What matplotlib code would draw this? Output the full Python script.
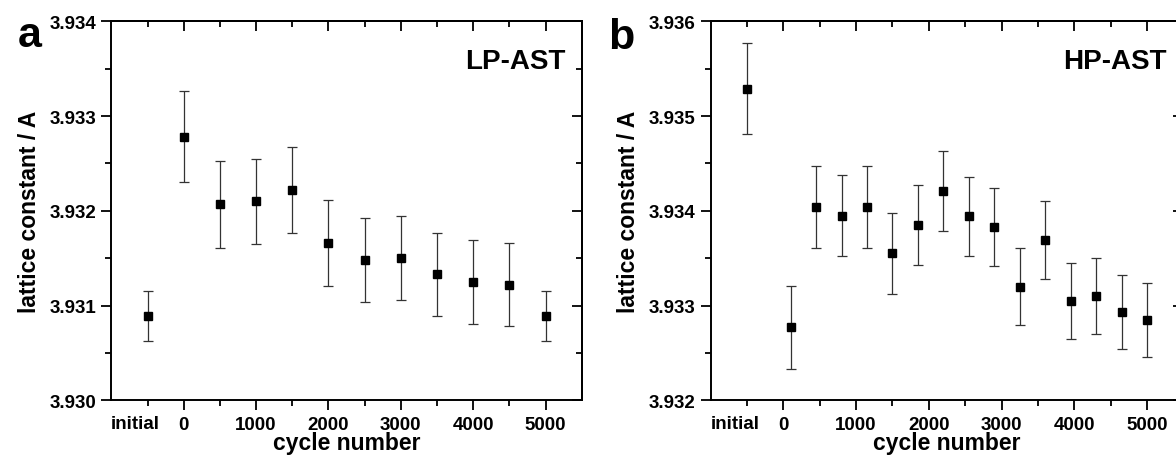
import matplotlib
matplotlib.use("Agg")
import matplotlib.pyplot as plt
from matplotlib.ticker import MultipleLocator

plt.rcParams['font.family'] = ['Liberation Sans', 'DejaVu Sans']
plt.rcParams['font.weight'] = 'bold'

# Panel a: LP-AST
a_x = [-500, 0, 500, 1000, 1500, 2000, 2500, 3000, 3500, 4000, 4500, 5000]
a_y = [3.93089, 3.93278, 3.93207, 3.93210, 3.93222, 3.93166, 3.93148, 3.93150,
       3.93133, 3.93125, 3.93122, 3.93089]
a_err = [0.00026, 0.00048, 0.00046, 0.00045, 0.00045, 0.00045, 0.00044, 0.00044,
         0.00044, 0.00044, 0.00044, 0.00026]

# Panel b: HP-AST
b_x = [-500, 100, 450, 800, 1150, 1500, 1850, 2200, 2550, 2900, 3250, 3600,
       3950, 4300, 4650, 5000]
b_y = [3.93529, 3.93277, 3.93404, 3.93395, 3.93404, 3.93355, 3.93385, 3.93421,
       3.93394, 3.93383, 3.93320, 3.93369, 3.93305, 3.93310, 3.93293, 3.93285]
b_err = [0.00048, 0.00044, 0.00043, 0.00043, 0.00043, 0.00043, 0.00042, 0.00042,
         0.00042, 0.00041, 0.00041, 0.00041, 0.00040, 0.00040, 0.00039, 0.00039]

major_x = [0, 1000, 2000, 3000, 4000, 5000]
minor_x = [-500, 500, 1500, 2500, 3500, 4500]
initial_label = 'initial'
initial_pos = -500

fig = plt.figure(figsize=(11.76, 4.56), dpi=100)
ax_a = fig.add_axes([0.0947, 0.12, 0.400, 0.831])
ax_b = fig.add_axes([0.6043, 0.12, 0.402, 0.831])

def style(ax, ylim, yticks, tag):
    ax.set_xlim(-1000, 5500)
    ax.set_ylim(*ylim)
    ax.set_xticks(major_x)
    ax.set_xticks(minor_x, minor=True)
    ax.set_yticks(yticks)
    ax.set_yticklabels([f"{v:.3f}" for v in yticks])
    ax.yaxis.set_minor_locator(MultipleLocator(0.0005))
    for s in ax.spines.values():
        s.set_linewidth(1.4)
    ax.tick_params(which='both', direction='out', width=1.3, labelsize=13.5,
                   top=False, right=False)
    ax.tick_params(which='major', length=7, pad=4)
    ax.tick_params(which='minor', length=4, pad=4)
    # "initial" label, sitting slightly left of its tick
    ax.annotate(initial_label, xy=(initial_pos, 0), xycoords=('data', 'axes fraction'),
                xytext=(-8.5, -19.8), textcoords='offset points', ha='center',
                va='baseline', fontsize=13.5, fontweight='bold', annotation_clip=False)
    # inward ticks on top and right
    sec_x = ax.secondary_xaxis('top')
    sec_x.set_xticks(major_x)
    sec_x.set_xticks(minor_x, minor=True)
    sec_x.tick_params(which='both', direction='in', width=1.3, labeltop=False)
    sec_x.tick_params(which='major', length=7)
    sec_x.tick_params(which='minor', length=4)
    sec_x.set_xticklabels([])
    sec_x.spines['top'].set_linewidth(1.4)
    sec_y = ax.secondary_yaxis('right')
    sec_y.set_yticks(yticks)
    sec_y.yaxis.set_minor_locator(MultipleLocator(0.0005))
    sec_y.tick_params(which='both', direction='in', width=1.3, labelright=False)
    sec_y.tick_params(which='major', length=7)
    sec_y.tick_params(which='minor', length=4)
    sec_y.set_yticklabels([])
    sec_y.spines['right'].set_linewidth(1.4)
    ax.set_xlabel('cycle number', fontsize=16.5, fontweight='bold', labelpad=-1)
    ax.set_ylabel('lattice constant / A', fontsize=16.5, fontweight='bold', labelpad=6)
    ax.text(0.965, 0.876, tag, transform=ax.transAxes, ha='right', va='baseline',
            fontsize=20, fontweight='bold')

ax_a.errorbar(a_x, a_y, yerr=a_err, fmt='s', color='black', ms=6, ecolor='#333333',
              elinewidth=0.9, capsize=3.5, capthick=0.9)
ax_b.errorbar(b_x, b_y, yerr=b_err, fmt='s', color='black', ms=6, ecolor='#333333',
              elinewidth=0.9, capsize=3.5, capthick=0.9)

style(ax_a, (3.930, 3.934), [3.930, 3.931, 3.932, 3.933, 3.934], 'LP-AST')
style(ax_b, (3.932, 3.936), [3.932, 3.933, 3.934, 3.935, 3.936], 'HP-AST')

fig.text(18 / 1176, 1 - 47 / 456, 'a', fontsize=31, fontweight='bold', va='baseline')
fig.text(608 / 1176, 1 - 49 / 456, 'b', fontsize=31, fontweight='bold', va='baseline')

fig.savefig('out.png', dpi=100)
